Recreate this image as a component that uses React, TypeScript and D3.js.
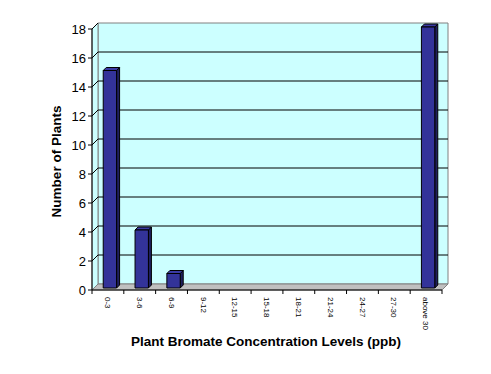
import React, { useEffect, useRef } from "react";
import * as d3 from "d3";

const categories = ["0-3", "3-6", "6-9", "9-12", "12-15", "15-18", "18-21", "21-24", "24-27", "27-30", "above 30"];
const plantCounts = [15, 4, 1, 0, 0, 0, 0, 0, 0, 0, 18];
const yTicks = [0, 2, 4, 6, 8, 10, 12, 14, 16, 18];

const width = 491;
const height = 374;
const plot = { left: 92, right: 442, top: 29, bottom: 290 };
const depth = 6; // wall depth offset (right / up)
const barOffset = 2; // bars sit a little into the depth
const barDepth = 3;
const font = "Arial, 'Liberation Sans', sans-serif";

export default function App() {
  const svgRef = useRef<SVGSVGElement>(null);

  useEffect(() => {
    const svg = d3.select(svgRef.current);
    svg.selectAll("*").remove();

    const x = d3
      .scaleBand()
      .domain(categories)
      .range([plot.left, plot.right])
      .paddingInner(0.58)
      .paddingOuter(0.29);

    const y = d3.scaleLinear().domain([0, 18]).range([plot.bottom, plot.top]);

    const step = x.step();
    const bw = x.bandwidth();
    const boundary = (i: number) => plot.left + i * step;

    const g = svg.append("g");

    // back wall
    g.append("polygon")
      .attr("points", [
        [plot.left + depth, y(18) - depth],
        [plot.right + depth, y(18) - depth],
        [plot.right + depth, y(0) - depth],
        [plot.left + depth, y(0) - depth],
      ].join(" "))
      .attr("fill", "#ccffff")
      .attr("stroke", "#808080");

    // side wall
    g.append("polygon")
      .attr("points", [
        [plot.left, y(18)],
        [plot.left + depth, y(18) - depth],
        [plot.left + depth, y(0) - depth],
        [plot.left, y(0)],
      ].join(" "))
      .attr("fill", "#ccffff")
      .attr("stroke", "#808080");

    // floor
    g.append("polygon")
      .attr("points", [
        [plot.left, y(0)],
        [plot.left + depth, y(0) - depth],
        [plot.right + depth, y(0) - depth],
        [plot.right, y(0)],
      ].join(" "))
      .attr("fill", "#c0c0c0")
      .attr("stroke", "#808080");

    // gridlines
    const grid = g.append("g").attr("stroke", "#000").attr("stroke-width", 1);
    yTicks
      .filter((t) => t > 0)
      .forEach((t) => {
        grid
          .append("line")
          .attr("x1", plot.left)
          .attr("y1", y(t))
          .attr("x2", plot.left + depth)
          .attr("y2", y(t) - depth);
        if (t < 18) {
          grid
            .append("line")
            .attr("x1", plot.left + depth)
            .attr("y1", y(t) - depth)
            .attr("x2", plot.right + depth)
            .attr("y2", y(t) - depth);
        }
      });

    // Y axis
    const yAxis = g.append("g");
    yAxis
      .append("line")
      .attr("x1", plot.left)
      .attr("x2", plot.left)
      .attr("y1", y(18))
      .attr("y2", y(0))
      .attr("stroke", "#000");
    yTicks.forEach((t) => {
      yAxis
        .append("line")
        .attr("x1", plot.left - 4)
        .attr("x2", plot.left)
        .attr("y1", y(t))
        .attr("y2", y(t))
        .attr("stroke", "#000");
      yAxis
        .append("text")
        .attr("x", plot.left - 6)
        .attr("y", y(t))
        .attr("dy", "0.36em")
        .attr("text-anchor", "end")
        .attr("font-family", font)
        .attr("font-size", 13)
        .attr("fill", "#000")
        .text(t);
    });

    // X axis
    const xAxis = g.append("g");
    xAxis
      .append("line")
      .attr("x1", plot.left)
      .attr("x2", plot.right)
      .attr("y1", y(0))
      .attr("y2", y(0))
      .attr("stroke", "#000");
    d3.range(categories.length + 1).forEach((i) => {
      xAxis
        .append("line")
        .attr("x1", boundary(i))
        .attr("x2", boundary(i))
        .attr("y1", y(0))
        .attr("y2", y(0) + 4)
        .attr("stroke", "#000");
    });
    categories.forEach((c) => {
      const cx = (x(c) as number) + bw / 2;
      xAxis
        .append("text")
        .attr("transform", `translate(${cx},${y(0) + 7}) rotate(90)`)
        .attr("dy", "0.35em")
        .attr("text-anchor", "start")
        .attr("font-family", font)
        .attr("font-size", 8)
        .attr("fill", "#000")
        .text(c);
    });

    // bars
    const data = categories.map((c, i) => ({ name: c, value: plantCounts[i] }));
    const bars = g
      .append("g")
      .selectAll("g")
      .data(data.filter((d) => d.value > 0))
      .enter()
      .append("g")
      .attr("stroke", "#000")
      .attr("stroke-width", 1)
      .attr("stroke-linejoin", "round");

    const bx = (d: { name: string }) => (x(d.name) as number) + barOffset;
    const btop = (d: { value: number }) => y(d.value) - barOffset;
    const bbot = y(0) - barOffset;

    bars
      .append("polygon")
      .attr("fill", "#1f1f5e")
      .attr("points", (d) =>
        [
          [bx(d) + bw, btop(d)],
          [bx(d) + bw + barDepth, btop(d) - barDepth],
          [bx(d) + bw + barDepth, bbot - barDepth],
          [bx(d) + bw, bbot],
        ].join(" ")
      );
    bars
      .append("polygon")
      .attr("fill", "#3a3aa3")
      .attr("points", (d) =>
        [
          [bx(d), btop(d)],
          [bx(d) + barDepth, btop(d) - barDepth],
          [bx(d) + bw + barDepth, btop(d) - barDepth],
          [bx(d) + bw, btop(d)],
        ].join(" ")
      );
    bars
      .append("rect")
      .attr("fill", "#333399")
      .attr("x", bx)
      .attr("y", btop)
      .attr("width", bw)
      .attr("height", (d) => bbot - btop(d));

    // axis titles
    g.append("text")
      .attr("transform", `translate(61,${(plot.top + plot.bottom) / 2 + 2}) rotate(-90)`)
      .attr("text-anchor", "middle")
      .attr("font-family", font)
      .attr("font-weight", "bold")
      .attr("font-size", 13.5)
      .text("Number of Plants");

    g.append("text")
      .attr("x", 266)
      .attr("y", 346)
      .attr("text-anchor", "middle")
      .attr("font-family", font)
      .attr("font-weight", "bold")
      .attr("font-size", 13.5)
      .text("Plant Bromate Concentration Levels (ppb)");
  }, []);

  return (
    <svg
      ref={svgRef}
      width={width}
      height={height}
      style={{ position: "absolute", left: 0, top: 0, background: "#fff" }}
    />
  );
}
